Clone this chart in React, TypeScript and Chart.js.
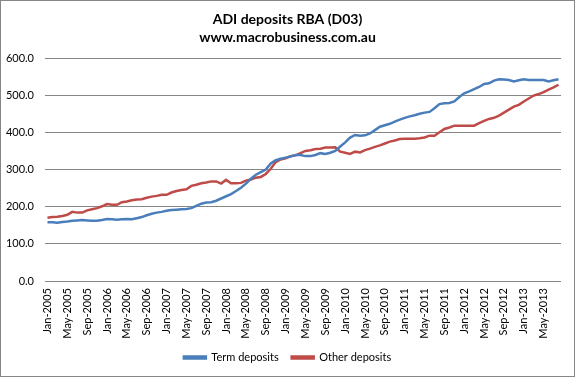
import React, { useEffect, useRef } from 'react';
import { Chart, registerables } from 'chart.js';

Chart.register(...registerables);

const monthNames = ['Jan', 'Feb', 'Mar', 'Apr', 'May', 'Jun', 'Jul', 'Aug', 'Sep', 'Oct', 'Nov', 'Dec'];
const years = [2005, 2006, 2007, 2008, 2009, 2010, 2011, 2012, 2013];
const monthCount = 104; // Jan-2005 .. Aug-2013
const categories: string[] = [];
years.forEach((y) => monthNames.forEach((m) => categories.push(`${m}-${y}`)));
categories.length = monthCount;

const termDeposits = [
  158, 158, 157, 159, 160, 162, 163, 164, 163, 162, 162, 164,
  167, 166, 165, 166, 167, 166, 169, 172, 177, 181, 184, 186,
  189, 191, 192, 193, 194, 196, 202, 208, 211, 212, 216, 222,
  228, 234, 242, 251, 262, 275, 286, 293, 300, 316, 325, 329,
  332, 335, 339, 339, 336, 336, 339, 344, 342, 345, 350, 362,
  373, 386, 393, 391, 392, 397, 406, 415, 419, 423, 429, 434,
  439, 443, 446, 450, 453, 455, 465, 476, 478, 479, 483, 495,
  505, 510, 516, 522, 530, 532, 539, 543, 542, 541, 537, 540,
  543, 541, 541, 541, 541, 537, 540, 543,
];

const otherDeposits = [
  170, 172, 173, 175, 178, 186, 184, 184, 190, 193, 196, 201,
  207, 205, 205, 212, 214, 217, 219, 220, 224, 227, 229, 232,
  232, 238, 242, 245, 247, 256, 259, 263, 265, 268, 268, 262,
  272, 263, 263, 264, 270, 273, 278, 280, 288, 302, 320, 327,
  330, 336, 338, 344, 350, 352, 355, 356, 359, 359, 360, 348,
  345, 342, 348, 346, 352, 356, 361, 365, 370, 375, 378, 382,
  383, 383, 383, 384, 386, 391, 391, 400, 409, 413, 418, 418,
  418, 418, 418, 425, 431, 436, 439, 445, 453, 461, 469, 474,
  483, 491, 499, 503, 508, 515, 521, 528,
];

const yMin = 0;
const yMax = 600;
const yStep = 100;
const labelEvery = 4;

const titleLines = ['ADI deposits RBA (D03)', 'www.macrobusiness.com.au'];
const seriesNames = ['Term deposits', 'Other deposits'];

const FONT = 'Lato, "Open Sans", sans-serif';

const frame = {
  id: 'frame',
  afterDraw(chart: any) {
    const ctx = chart.ctx;
    ctx.save();
    ctx.strokeStyle = '#868686';
    ctx.lineWidth = 1;
    ctx.strokeRect(0.5, 0.5, chart.width - 1, chart.height - 1);
    ctx.restore();
  },
};

export default function App() {
  const ref = useRef<HTMLCanvasElement>(null);

  useEffect(() => {
    const chart = new Chart(ref.current as HTMLCanvasElement, {
      type: 'line',
      data: {
        labels: categories,
        datasets: [
          {
            label: seriesNames[0],
            data: termDeposits,
            borderColor: '#4A7EBB',
            backgroundColor: '#4A7EBB',
            borderWidth: 2.5,
            pointRadius: 0,
            tension: 0,
          },
          {
            label: seriesNames[1],
            data: otherDeposits,
            borderColor: '#BE4B48',
            backgroundColor: '#BE4B48',
            borderWidth: 2.5,
            pointRadius: 0,
            tension: 0,
          },
        ],
      },
      options: {
        responsive: false,
        animation: false,
        layout: { padding: { left: 0, right: 0, top: 0, bottom: 4 } },
        plugins: {
          title: {
            display: true,
            text: titleLines,
            color: '#000',
            font: { family: FONT, size: 14, weight: 'bold', lineHeight: 18 / 14 },
            padding: { top: 10, bottom: 12 },
          },
          legend: {
            position: 'bottom',
            labels: {
              color: '#000',
              font: { family: FONT, size: 11 },
              boxWidth: 22,
              boxHeight: 2,
              padding: 13,
            },
          },
          tooltip: { enabled: false },
        },
        scales: {
          x: {
            type: 'category',
            offset: true,
            grid: { display: false, drawTicks: false },
            border: { display: false },
            ticks: {
              autoSkip: false,
              minRotation: 90,
              maxRotation: 90,
              padding: 7,
              color: '#000',
              font: { family: FONT, size: 11 },
              callback: (_v: any, i: number) => (i % labelEvery === 0 ? categories[i] : null),
            },
            afterFit: (s: any) => {
              s.height = 58;
            },
          },
          y: {
            min: yMin,
            max: yMax,
            grid: { color: '#868686', lineWidth: 1, drawTicks: false },
            border: { display: false },
            ticks: {
              stepSize: yStep,
              padding: 11,
              color: '#000',
              font: { family: FONT, size: 11 },
              callback: (v: any) => Number(v).toFixed(1),
            },
            afterFit: (s: any) => {
              s.width = 45;
            },
          },
          yRight: {
            position: 'right',
            display: true,
            grid: { display: false, drawTicks: false },
            border: { display: false },
            ticks: { display: false },
            afterFit: (s: any) => {
              s.width = 14;
            },
          },
        },
      },
      plugins: [frame],
    } as any);
    return () => chart.destroy();
  }, []);

  return (
    <div style={{ position: 'absolute', left: 0, top: 0, width: 575, height: 377, background: '#fff' }}>
      <canvas ref={ref} width={575} height={377} style={{ display: 'block' }} />
    </div>
  );
}
